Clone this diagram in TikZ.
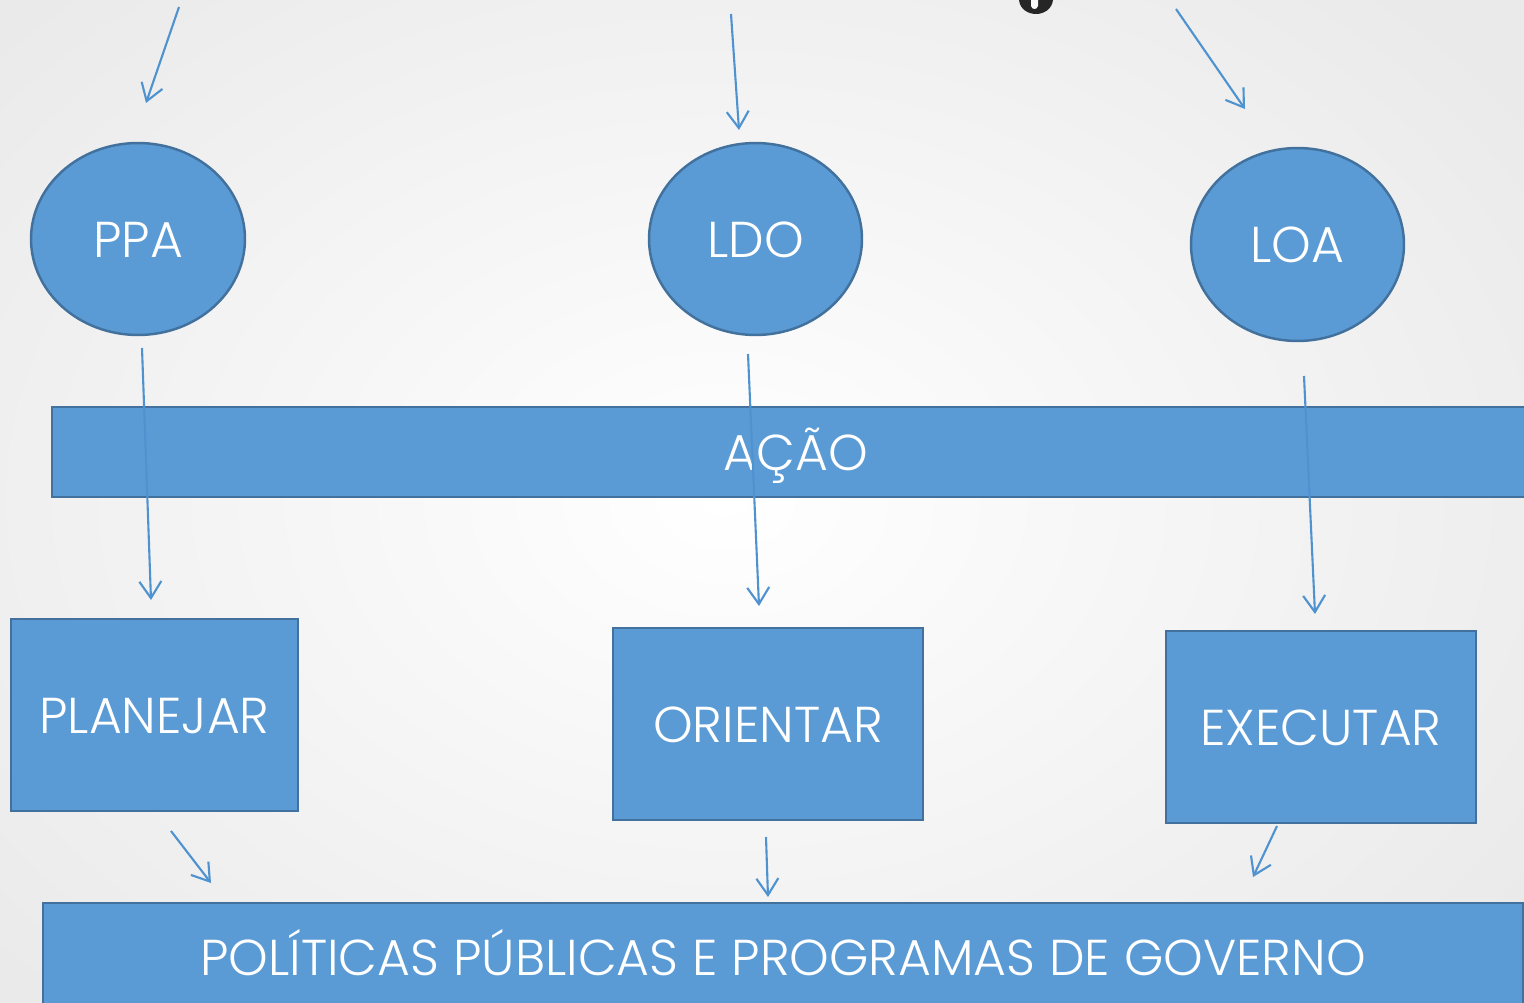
\documentclass[tikz,border=0pt]{standalone}
\usepackage{fontspec}
\setmainfont{Poppins}[UprightFont={* Light}]
\usetikzlibrary{arrows.meta,shapes.geometric}
\definecolor{fillblue}{HTML}{5B9BD5}
\definecolor{edgeblue}{HTML}{41719C}
\definecolor{arrowblue}{HTML}{4E92D0}
\definecolor{bgedge}{HTML}{EAEAEA}
\begin{document}
\begin{tikzpicture}[x=0.02cm,y=-0.02cm,
  txt/.style={text=white,font=\fontsize{28.7}{34}\selectfont,text height=21pt,text depth=0pt},
  oval/.style={ellipse,draw=edgeblue,fill=fillblue,line width=1.4pt,inner sep=0pt,txt},
  box/.style={rectangle,draw=edgeblue,fill=fillblue,line width=1.4pt,inner sep=0pt,txt},
  arr/.style={draw=arrowblue,line width=1.2pt,-{Straight Barb[length=9.5pt,width=12.5pt]}}]
\useasboundingbox (0,0) rectangle (1524,1003);
\clip (0,0) rectangle (1524,1003);
\shade[inner color=white,outer color=bgedge] (-250,-200) rectangle (1700,1200);
% cut-off title fragment
\fill[black!85] (1019,0) .. controls (1020,10) and (1029,14) .. (1036,14) .. controls (1044,14) and (1052,9) .. (1053,0) -- cycle;
\fill[white!96!gray] (1031,0) -- (1031,6) .. controls (1032,10) and (1037,10) .. (1038,6) -- (1038,0) -- cycle;
% nodes
\node[oval,minimum width=4.28cm,minimum height=3.84cm] (ppa) at (138,239) {PPA};
\node[oval,minimum width=4.26cm,minimum height=3.84cm] (ldo) at (755.5,239) {LDO};
\node[oval,minimum width=4.26cm,minimum height=3.86cm] (loa) at (1297.5,244.5) {LOA};
\node[box,minimum width=29.76cm,minimum height=1.8cm] (acao) at (796,452) {AÇÃO};
\node[box,minimum width=5.74cm,minimum height=3.84cm] (plan) at (154.5,715) {PLANEJAR};
\node[box,minimum width=6.2cm,minimum height=3.84cm] (ori) at (768,724) {ORIENTAR};
\node[box,minimum width=6.2cm,minimum height=3.84cm] (exe) at (1321,727) {EXECUTAR};
\node[box,minimum width=29.6cm,minimum height=2.16cm] (pol) at (783,957) {POLÍTICAS PÚBLICAS E PROGRAMAS DE GOVERNO};
% arrow end points
\coordinate (a1s) at (179,7);    \coordinate (a1e) at (146,103);
\coordinate (a2s) at (731,14);   \coordinate (a2e) at (739,130);
\coordinate (a3s) at (1176,9);   \coordinate (a3e) at (1245,109);
\coordinate (b1s) at (142,348);  \coordinate (b1e) at (151,600);
\coordinate (b2s) at (748,354);  \coordinate (b2e) at (759,606);
\coordinate (b3s) at (1304,376); \coordinate (b3e) at (1315,614);
\coordinate (c1s) at (171,831);  \coordinate (c1e) at (211,883);
\coordinate (c2s) at (766,837);  \coordinate (c2e) at (768,897);
\coordinate (c3s) at (1277,826); \coordinate (c3e) at (1253,877);
\foreach \n in {a1,a2,a3,b1,b2,b3,c1,c2,c3}{\draw[arr] (\n s) -- (\n e);}
\end{tikzpicture}
\end{document}
